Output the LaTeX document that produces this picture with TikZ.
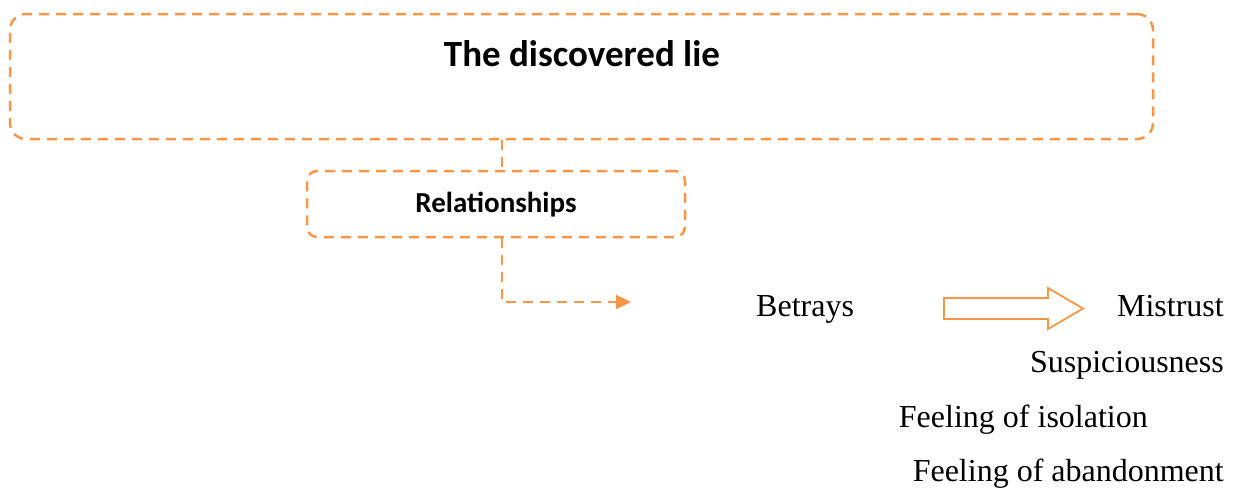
\documentclass[tikz,border=0pt]{standalone}
\usepackage{fontspec}
\setmainfont{Liberation Serif}
\newfontfamily\titlefont{Carlito}
\usetikzlibrary{arrows.meta,calc}
\definecolor{accent}{HTML}{F79646}
\begin{document}
\begin{tikzpicture}[x=1pt,y=-1pt,
  dbox/.style={draw=accent,line width=2.5pt,dash pattern=on 10pt off 7pt,rounded corners=16pt,inner sep=0pt},
  dconn/.style={draw=accent,line width=2.3pt,dash pattern=on 10pt off 7pt},
  plain/.style={font=\fontsize{32}{32}\selectfont,inner sep=0pt},
  hollow/.style={draw=accent,line width=1.8pt,fill=white,line join=miter}]
\useasboundingbox (0,0) rectangle (1236,488);
\node[dbox,minimum width=1143pt,minimum height=125pt] (big) at (581.5,76.5) {};
\node[anchor=base,inner sep=0pt,font=\titlefont\bfseries\fontsize{37}{37}\selectfont] (title) at (582,66) {The discovered lie};
\node[dbox,minimum width=378pt,minimum height=66pt,rounded corners=10pt] (rel) at (496,204) {};
\node[anchor=base,inner sep=0pt,font=\titlefont\bfseries\fontsize{29}{29}\selectfont] (reltxt) at (496,212) {Relationships};
\coordinate (tgt) at (631,302);
\draw[dconn] ([xshift=6pt]big.south -| rel.north) -- ([xshift=6pt]rel.north);
\draw[dconn,-{Triangle[length=15pt,width=14pt]}] ([xshift=6pt]rel.south) |- (tgt);
\node[plain,anchor=base west] (betrays) at (756,316) {Betrays};
\node[plain,anchor=base east] (mistrust) at (1224,316) {Mistrust};
\draw[hollow] (944,298) -- (1048,298) -- (1048,288) -- (1083,308.5) -- (1048,329) -- (1048,319) -- (944,319) -- cycle;
\node[plain,anchor=base east] (susp) at (1224,372) {Suspiciousness};
\node[plain,anchor=base east] (iso) at (1148,427) {Feeling of isolation};
\node[plain,anchor=base east] (aband) at (1224,481) {Feeling of abandonment};
\end{tikzpicture}
\end{document}
